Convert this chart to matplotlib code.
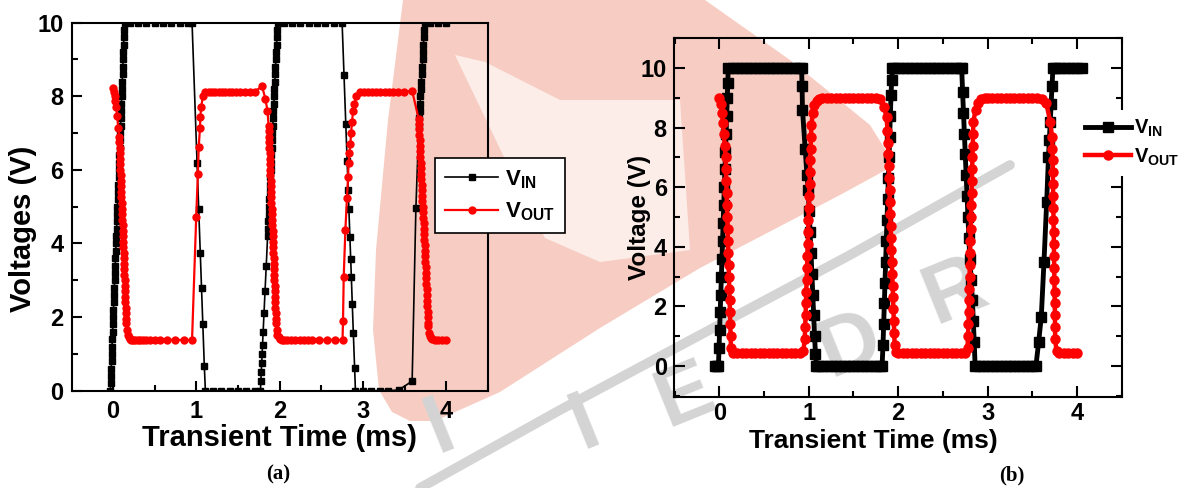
import matplotlib
matplotlib.use("Agg")
import matplotlib.pyplot as plt
import numpy as np
from matplotlib.patches import Polygon
from matplotlib.ticker import MultipleLocator

# values, (time in ms, voltage in V)
# the steep edges are drawn with many samples in the original, so they are listed densely

# panel (a)
vin_a = [
    # rise 1
    (-0.030, 0.0), (-0.027, 0.2), (-0.023, 0.4), (-0.020, 0.6), (-0.016, 0.8), (-0.013, 1.0),
    (-0.010, 1.2), (-0.006, 1.4), (-0.003, 1.6), (0.001, 1.8), (0.004, 2.0), (0.007, 2.2),
    (0.011, 2.4), (0.014, 2.6), (0.018, 2.8), (0.021, 3.0), (0.024, 3.2), (0.028, 3.4),
    (0.031, 3.6), (0.035, 3.8), (0.038, 4.0), (0.041, 4.2), (0.045, 4.4), (0.048, 4.6),
    (0.052, 4.8), (0.055, 5.0), (0.058, 5.2), (0.062, 5.4), (0.065, 5.6), (0.069, 5.8),
    (0.072, 6.0), (0.075, 6.2), (0.079, 6.4), (0.082, 6.6), (0.086, 6.8), (0.089, 7.0),
    (0.092, 7.2), (0.096, 7.4), (0.099, 7.6), (0.103, 7.8), (0.106, 8.0), (0.109, 8.2),
    (0.113, 8.4), (0.116, 8.6), (0.120, 8.8), (0.123, 9.0), (0.126, 9.2), (0.130, 9.4),
    (0.133, 9.6), (0.137, 9.8), (0.140, 10.0),
    (0.2, 10.0), (0.3, 10.0), (0.4, 10.0), (0.5, 10.0), (0.6, 10.0), (0.7, 10.0), (0.8, 10.0), (0.9, 10.0),
    # fall 1
    (0.95, 10.0), (1.01, 6.2), (1.03, 4.95), (1.048, 3.75), (1.064, 2.78), (1.079, 1.82),
    (1.097, 0.68), (1.11, 0.0),
    (1.2, 0.0), (1.3, 0.0), (1.4, 0.0), (1.5, 0.0), (1.6, 0.0), (1.7, 0.0),
    # rise 2
    (1.770, 0.0), (1.775, 0.25), (1.780, 0.5), (1.785, 0.75), (1.791, 1.0), (1.796, 1.25),
    (1.803, 1.6), (1.813, 2.1), (1.826, 2.7), (1.840, 3.4),
    (1.857, 4.2), (1.861, 4.4), (1.865, 4.6), (1.869, 4.8), (1.873, 5.0), (1.877, 5.2),
    (1.881, 5.4), (1.885, 5.6), (1.889, 5.8), (1.894, 6.0), (1.898, 6.2), (1.902, 6.4),
    (1.906, 6.6), (1.910, 6.8), (1.914, 7.0), (1.918, 7.2), (1.922, 7.4), (1.927, 7.6),
    (1.931, 7.8), (1.935, 8.0), (1.939, 8.2), (1.943, 8.4), (1.947, 8.6), (1.951, 8.8),
    (1.955, 9.0), (1.960, 9.2), (1.964, 9.4), (1.968, 9.6), (1.972, 9.8), (1.976, 10.0),
    (2.05, 10.0), (2.15, 10.0), (2.25, 10.0), (2.35, 10.0), (2.45, 10.0), (2.55, 10.0), (2.65, 10.0),
    # fall 2
    (2.75, 10.0), (2.773, 8.58), (2.794, 7.24), (2.810, 6.24), (2.823, 5.46), (2.831, 4.93),
    (2.843, 4.18), (2.853, 3.59), (2.861, 3.08), (2.872, 2.35), (2.885, 1.58), (2.900, 0.62),
    (2.91, 0.0),
    (3.0, 0.0), (3.1, 0.0), (3.2, 0.0), (3.3, 0.0), (3.43, 0.02),
    # rise 3
    (3.59, 0.26), (3.635, 4.96), (3.670, 7.2), (3.675, 7.4), (3.680, 7.6), (3.685, 7.8),
    (3.690, 8.0), (3.695, 8.2), (3.700, 8.4), (3.705, 8.6), (3.710, 8.8), (3.715, 9.0),
    (3.720, 9.2), (3.725, 9.4), (3.730, 9.6), (3.735, 9.8), (3.740, 10.0),
    (3.8, 10.0), (3.9, 10.0), (4.0, 10.0),
]

vout_a = [
    (0.0, 8.22), (0.01, 8.12), (0.02, 8.02), (0.03, 7.88), (0.04, 7.7), (0.05, 7.47), (0.065, 7.15),
    # fall 1
    (0.0760, 6.90), (0.0785, 6.75), (0.0810, 6.60), (0.0835, 6.45), (0.0860, 6.30), (0.0885, 6.15),
    (0.0910, 6.00), (0.0935, 5.85), (0.0960, 5.70), (0.0985, 5.55), (0.1010, 5.40), (0.1035, 5.25),
    (0.1060, 5.10), (0.1085, 4.95), (0.1110, 4.80), (0.1135, 4.65), (0.1160, 4.50), (0.1185, 4.35),
    (0.1210, 4.20), (0.1235, 4.05), (0.1260, 3.90), (0.1285, 3.75), (0.1310, 3.60), (0.1335, 3.45),
    (0.1360, 3.30), (0.1385, 3.15), (0.1410, 3.00), (0.1435, 2.85), (0.1460, 2.70), (0.1485, 2.55),
    (0.1510, 2.40), (0.1535, 2.25), (0.1560, 2.10), (0.1585, 1.95), (0.1610, 1.85),
    (0.168, 1.65), (0.177, 1.52), (0.188, 1.45), (0.20, 1.41), (0.22, 1.39), (0.24, 1.38),
    (0.27, 1.38), (0.30, 1.38), (0.33, 1.38), (0.36, 1.38), (0.40, 1.38), (0.45, 1.38),
    (0.51, 1.38), (0.57, 1.38), (0.65, 1.38), (0.75, 1.38), (0.85, 1.38), (0.95, 1.38),
    # rise 1
    (1.0, 4.73), (1.02, 5.9), (1.03, 6.63), (1.045, 7.13), (1.05, 7.45), (1.06, 7.72),
    (1.08, 8.0), (1.11, 8.12),
    (1.15, 8.12), (1.19, 8.12), (1.23, 8.12), (1.27, 8.12), (1.31, 8.12), (1.35, 8.12),
    (1.39, 8.12), (1.43, 8.12), (1.48, 8.12), (1.53, 8.12), (1.58, 8.12), (1.64, 8.12),
    (1.70, 8.13), (1.79, 8.27),
    # fall 2
    (1.83, 7.93), (1.855, 7.6), (1.868, 7.2), (1.8705, 7.05), (1.873, 6.9), (1.8756, 6.75),
    (1.878, 6.6), (1.8806, 6.45), (1.883, 6.3), (1.8857, 6.15), (1.888, 6.0), (1.8907, 5.85),
    (1.893, 5.7), (1.8957, 5.55), (1.898, 5.4), (1.9008, 5.25), (1.903, 5.1), (1.9058, 4.95),
    (1.908, 4.8), (1.9108, 4.65), (1.913, 4.5), (1.9159, 4.35), (1.918, 4.2), (1.9209, 4.05),
    (1.923, 3.9), (1.926, 3.75), (1.928, 3.6), (1.931, 3.45), (1.934, 3.3), (1.936, 3.15),
    (1.939, 3.0), (1.941, 2.85), (1.944, 2.7), (1.946, 2.55), (1.949, 2.4), (1.951, 2.25),
    (1.954, 2.1), (1.956, 1.95), (1.958, 1.85),
    (1.966, 1.65), (1.975, 1.52), (1.99, 1.45), (2.01, 1.41), (2.03, 1.39), (2.05, 1.38),
    (2.09, 1.38), (2.14, 1.38), (2.19, 1.38), (2.24, 1.38), (2.29, 1.38), (2.34, 1.38),
    (2.39, 1.38), (2.47, 1.38), (2.57, 1.38), (2.67, 1.38), (2.755, 1.38),
    # rise 2
    (2.761, 1.9), (2.769, 3.08), (2.789, 4.36), (2.809, 5.23), (2.821, 5.8), (2.829, 6.2),
    (2.837, 6.45), (2.849, 6.7), (2.857, 7.0), (2.869, 7.3), (2.881, 7.6), (2.897, 7.8),
    (2.921, 8.0), (2.969, 8.12),
    (3.01, 8.12), (3.06, 8.12), (3.11, 8.12), (3.16, 8.12), (3.21, 8.12), (3.26, 8.12),
    (3.31, 8.12), (3.36, 8.12), (3.42, 8.12), (3.49, 8.12), (3.59, 8.15),
    # fall 3
    (3.669, 7.38), (3.672, 7.25), (3.675, 7.1), (3.678, 6.95), (3.681, 6.8), (3.684, 6.65),
    (3.687, 6.5), (3.690, 6.35), (3.693, 6.2), (3.696, 6.05), (3.699, 5.9), (3.702, 5.75),
    (3.705, 5.6), (3.708, 5.45), (3.711, 5.3), (3.714, 5.15), (3.717, 5.0), (3.720, 4.85),
    (3.723, 4.7), (3.727, 4.55), (3.730, 4.4), (3.733, 4.25), (3.736, 4.1), (3.739, 3.95),
    (3.742, 3.8), (3.745, 3.65), (3.748, 3.5), (3.751, 3.35), (3.754, 3.2), (3.757, 3.05),
    (3.760, 2.9), (3.763, 2.75), (3.766, 2.6), (3.769, 2.45), (3.772, 2.3), (3.775, 2.15),
    (3.778, 2.0), (3.781, 1.85), (3.783, 1.75),
    (3.79, 1.58), (3.80, 1.49), (3.815, 1.43), (3.83, 1.40),
    (3.86, 1.38), (3.90, 1.38), (3.95, 1.38), (4.0, 1.38),
]

# panel (b)
vin_b = [
    (-0.05, 0.0), (-0.03, 0.0), (-0.01, 0.0), (-0.003, 0.6), (0.003, 1.2), (0.01, 1.8),
    (0.016, 2.4), (0.023, 3.0), (0.03, 3.6), (0.036, 4.2), (0.043, 4.8), (0.049, 5.4),
    (0.056, 6.0), (0.063, 6.6), (0.069, 7.2), (0.076, 7.8), (0.082, 8.4), (0.089, 9.0),
    (0.095, 9.5), (0.10, 10.0),
    (0.15, 10.0), (0.2, 10.0), (0.25, 10.0), (0.3, 10.0), (0.35, 10.0), (0.4, 10.0),
    (0.45, 10.0), (0.5, 10.0), (0.55, 10.0), (0.6, 10.0), (0.65, 10.0), (0.7, 10.0),
    (0.75, 10.0), (0.8, 10.0), (0.85, 10.0), (0.9, 10.0),
    (0.92, 10.0), (0.925, 9.4), (0.93, 8.6), (0.96, 7.3), (0.98, 6.4), (0.995, 5.9),
    (1.005, 5.2), (1.015, 4.5), (1.025, 3.8), (1.035, 3.1), (1.045, 2.4), (1.055, 1.7),
    (1.065, 1.0), (1.075, 0.4), (1.085, 0.0),
    (1.1, 0.0), (1.15, 0.0), (1.2, 0.0), (1.25, 0.0), (1.3, 0.0), (1.35, 0.0), (1.4, 0.0),
    (1.45, 0.0), (1.5, 0.0), (1.55, 0.0), (1.6, 0.0), (1.65, 0.0), (1.7, 0.0), (1.75, 0.0),
    (1.8, 0.0),
    (1.82, 0.0), (1.83, 0.7), (1.838, 1.4), (1.845, 2.1), (1.852, 2.8), (1.86, 3.5),
    (1.867, 4.2), (1.875, 4.9), (1.882, 5.6), (1.89, 6.3), (1.897, 7.0), (1.905, 7.7),
    (1.912, 8.4), (1.92, 9.1), (1.927, 9.6), (1.935, 10.0),
    (1.95, 10.0), (2.0, 10.0), (2.05, 10.0), (2.1, 10.0), (2.15, 10.0), (2.2, 10.0),
    (2.25, 10.0), (2.3, 10.0), (2.35, 10.0), (2.4, 10.0), (2.45, 10.0), (2.5, 10.0),
    (2.55, 10.0), (2.6, 10.0), (2.65, 10.0), (2.7, 10.0),
    (2.71, 10.0), (2.72, 9.2), (2.73, 8.5), (2.74, 7.8), (2.75, 7.1), (2.76, 6.4),
    (2.77, 5.7), (2.78, 5.0), (2.79, 4.3), (2.80, 3.6), (2.815, 2.9), (2.83, 2.2),
    (2.84, 1.5), (2.85, 0.8), (2.86, 0.0),
    (2.9, 0.0), (2.95, 0.0), (3.0, 0.0), (3.05, 0.0), (3.1, 0.0), (3.15, 0.0), (3.2, 0.0),
    (3.25, 0.0), (3.3, 0.0), (3.35, 0.0), (3.4, 0.0), (3.45, 0.0), (3.5, 0.0), (3.54, 0.0),
    (3.57, 0.8), (3.60, 1.66), (3.63, 3.5), (3.66, 5.5), (3.68, 7.0), (3.69, 7.6),
    (3.70, 8.2), (3.71, 8.8), (3.72, 9.4), (3.73, 10.0),
    (3.75, 10.0), (3.8, 10.0), (3.85, 10.0), (3.9, 10.0), (3.95, 10.0), (4.0, 10.0), (4.05, 10.0),
]

vout_b = [
    (0.0, 9.0), (0.015, 8.8), (0.03, 8.5), (0.04, 8.15), (0.05, 7.8), (0.06, 7.4),
    (0.070, 7.0), (0.074, 6.6), (0.078, 6.2), (0.081, 5.8), (0.085, 5.4), (0.089, 5.0),
    (0.093, 4.6), (0.096, 4.2), (0.100, 3.8), (0.104, 3.4), (0.108, 3.0), (0.111, 2.6),
    (0.115, 2.2), (0.119, 1.8), (0.123, 1.4), (0.126, 1.0), (0.130, 0.6), (0.15, 0.45),
    (0.2, 0.43), (0.25, 0.43), (0.3, 0.43), (0.35, 0.43), (0.4, 0.43), (0.45, 0.43),
    (0.5, 0.43), (0.55, 0.43), (0.6, 0.43), (0.65, 0.43), (0.7, 0.43), (0.75, 0.43),
    (0.8, 0.43), (0.85, 0.43), (0.9, 0.43),
    (0.94, 0.5), (0.955, 0.9), (0.960, 1.3), (0.964, 1.7), (0.968, 2.1), (0.972, 2.5),
    (0.976, 2.9), (0.980, 3.3), (0.984, 3.7), (0.989, 4.1), (0.993, 4.5), (0.997, 4.9),
    (1.001, 5.3), (1.005, 5.7), (1.009, 6.1), (1.013, 6.5), (1.017, 6.9), (1.021, 7.3),
    (1.025, 7.7), (1.030, 8.1), (1.045, 8.5), (1.06, 8.75), (1.09, 8.9), (1.12, 8.97),
    (1.15, 9.0), (1.2, 9.0), (1.25, 9.0), (1.3, 9.0), (1.35, 9.0), (1.4, 9.0), (1.45, 9.0),
    (1.5, 9.0), (1.55, 9.0), (1.6, 9.0), (1.65, 9.0), (1.7, 9.0), (1.75, 9.0),
    (1.80, 8.95), (1.84, 8.7), (1.87, 8.37), (1.88, 7.9),
    (1.885, 7.5), (1.889, 7.1), (1.894, 6.7), (1.898, 6.3), (1.903, 5.9), (1.907, 5.5),
    (1.911, 5.1), (1.916, 4.7), (1.920, 4.3), (1.925, 3.9), (1.929, 3.5), (1.933, 3.1),
    (1.938, 2.7), (1.942, 2.3), (1.947, 1.9), (1.951, 1.5), (1.955, 1.1), (1.960, 0.7),
    (1.98, 0.47),
    (2.0, 0.43), (2.05, 0.43), (2.1, 0.43), (2.15, 0.43), (2.2, 0.43), (2.25, 0.43),
    (2.3, 0.43), (2.35, 0.43), (2.4, 0.43), (2.45, 0.43), (2.5, 0.43), (2.55, 0.43),
    (2.6, 0.43), (2.65, 0.43), (2.7, 0.43), (2.75, 0.43),
    (2.775, 0.6), (2.78, 1.0), (2.785, 1.4), (2.788, 1.8), (2.791, 2.2), (2.795, 2.6),
    (2.798, 3.0), (2.801, 3.4), (2.804, 3.8), (2.808, 4.2), (2.811, 4.6), (2.814, 5.0),
    (2.817, 5.4), (2.820, 5.8), (2.824, 6.2), (2.827, 6.6), (2.830, 7.0), (2.834, 7.4),
    (2.837, 7.8), (2.840, 8.2), (2.865, 8.6), (2.89, 8.82), (2.93, 8.95), (2.97, 9.0),
    (3.0, 9.0), (3.05, 9.0), (3.1, 9.0), (3.15, 9.0), (3.2, 9.0), (3.25, 9.0),
    (3.3, 9.0), (3.35, 9.0), (3.4, 9.0), (3.45, 9.0), (3.5, 9.0), (3.55, 9.0),
    (3.61, 8.95), (3.656, 8.82), (3.70, 8.2), (3.72, 7.7),
    (3.725, 7.3), (3.727, 6.9), (3.729, 6.5), (3.731, 6.1), (3.733, 5.7), (3.734, 5.3),
    (3.736, 4.9), (3.738, 4.5), (3.740, 4.1), (3.742, 3.7), (3.744, 3.3), (3.746, 2.9),
    (3.748, 2.5), (3.750, 2.1), (3.752, 1.7), (3.753, 1.3), (3.755, 0.9), (3.77, 0.5),
    (3.80, 0.43), (3.85, 0.43), (3.90, 0.43), (3.95, 0.43), (4.0, 0.43),
]

legend_a = [r'$\mathbf{V}_{\mathbf{IN}}$', r'$\mathbf{V}_{\mathbf{OUT}}$']
legend_b = [r'$\mathrm{V}_{\mathrm{IN}}$', r'$\mathrm{V}_{\mathrm{OUT}}$']

# watermark outline in figure pixels (y downwards)
pink_outline = [(403, 0), (705, 0), (790, 60), (870, 125), (895, 165), (840, 195),
                (700, 268), (600, 328), (500, 392), (435, 421), (410, 421), (392, 412),
                (379, 390), (373, 330), (376, 250), (388, 120)]
pale_outline = [(455, 55), (485, 62), (560, 100), (680, 100), (690, 250), (600, 262),
                (545, 238), (515, 180)]
wm_letters = [('I', 440, 428), ('I', 585, 424), ('E', 685, 396), ('D', 850, 345), ('R', 955, 292)]


plt.rcParams['font.family'] = ['Liberation Sans', 'DejaVu Sans']
plt.rcParams['font.weight'] = 'bold'
plt.rcParams['axes.labelweight'] = 'bold'
plt.rcParams['mathtext.fontset'] = 'custom'
plt.rcParams['mathtext.rm'] = 'Liberation Sans'
plt.rcParams['mathtext.bf'] = 'Liberation Sans:bold'

W, H = 1181, 488
fig = plt.figure(figsize=(W / 100, H / 100), dpi=100)

# faint logo in the background
bg = fig.add_axes([0, 0, 1, 1], zorder=-5)
bg.set_xlim(0, W)
bg.set_ylim(H, 0)
bg.axis('off')
bg.add_patch(Polygon(pink_outline, closed=True, fc='#f7cdc3', ec='none'))
bg.add_patch(Polygon(pale_outline, closed=True, fc='white', ec='none', alpha=0.65))
bg.plot([420, 560, 700, 850, 1010], [488, 410, 335, 255, 165], color='#d4d4d4', lw=7,
        solid_capstyle='round')
for ch, x, y in wm_letters:
    bg.text(x, y, ch, color='#d4d4d4', fontsize=60, fontweight='bold',
            rotation=22, ha='center', va='center')


def style_axes(ax, tick_size, major_len, minor_len, all_sides):
    for sp in ax.spines.values():
        sp.set_linewidth(1.5)
    ax.xaxis.set_major_locator(MultipleLocator(1))
    ax.xaxis.set_minor_locator(MultipleLocator(0.5))
    ax.yaxis.set_major_locator(MultipleLocator(2))
    ax.yaxis.set_minor_locator(MultipleLocator(1))
    ax.tick_params(which='both', direction='in', width=1.5,
                   top=all_sides, right=all_sides, labelsize=tick_size)
    ax.tick_params(which='major', length=major_len)
    ax.tick_params(which='minor', length=minor_len)
    ax.set_facecolor('none')


# ---------- (a) ----------
axa = fig.add_axes([72 / W, 1 - 390.7 / H, (488 - 72) / W, (390.7 - 22.7) / H])
t, v = np.array(vin_a).T
axa.plot(t, v, '-s', color='black', lw=1.2, ms=4, label=legend_a[0], zorder=3)
t, v = np.array(vout_a).T
axa.plot(t, v, '-o', color='red', lw=1.6, ms=5, label=legend_a[1], zorder=4)
axa.set_xlim(-0.49, 4.5)
axa.set_ylim(0, 10)
style_axes(axa, 17, 7, 4, False)
axa.tick_params(axis='y', pad=6)
axa.tick_params(axis='x', pad=7)
axa.set_xlabel('Transient Time (ms)', fontsize=21)
axa.set_ylabel('Voltages (V)', fontsize=21)
axa.xaxis.set_label_coords(0.5, -0.09)
axa.yaxis.set_label_coords(-0.085, 0.44)
axa.legend(loc='upper left', bbox_to_anchor=(435 / W, 1 - 158 / H),
           bbox_transform=fig.transFigure, fontsize=16, frameon=True, fancybox=False,
           edgecolor='black', facecolor='white', framealpha=1, borderaxespad=0,
           handlelength=2.4, handletextpad=0.3, labelspacing=0.45, borderpad=0.45,
           numpoints=1).get_frame().set_linewidth(1.2)

# ---------- (b) ----------
axb = fig.add_axes([673.7 / W, 1 - 396.7 / H, (1121.8 - 673.7) / W, (396.7 - 38.3) / H])
t, v = np.array(vin_b).T
axb.plot(t, v, '-s', color='black', lw=3.5, ms=6.5, label=legend_b[0], zorder=3)
t, v = np.array(vout_b).T
axb.plot(t, v, '-o', color='red', lw=3.2, ms=6.5, label=legend_b[1], zorder=4)
axb.set_xlim(-0.51, 4.5)
axb.set_ylim(-1.03, 11)
style_axes(axb, 17, 8, 4.5, True)
axb.tick_params(axis='y', pad=5)
axb.tick_params(axis='x', pad=4)
axb.set_xlabel('Transient Time (ms)', fontsize=19)
axb.set_ylabel('Voltage (V)', fontsize=17.5)
axb.xaxis.set_label_coords(0.445, -0.09)
axb.yaxis.set_label_coords(-0.05, 0.5)
axb.legend(loc='upper left', bbox_to_anchor=(1077 / W, 1 - 110 / H),
           bbox_transform=fig.transFigure, fontsize=14.5, frameon=True, fancybox=False,
           edgecolor='none', facecolor='white', framealpha=1, borderaxespad=0,
           handlelength=2.3, handletextpad=0.15, labelspacing=0.35, borderpad=0.4,
           numpoints=1)

fig.text(278 / W, 1 - 474 / H, '(a)', ha='center', va='center', fontsize=15,
         family=['Liberation Serif', 'DejaVu Serif'], fontweight='bold')
fig.text(1012 / W, 1 - 475 / H, '(b)', ha='center', va='center', fontsize=15,
         family=['Liberation Serif', 'DejaVu Serif'], fontweight='bold')

fig.savefig('out.png', dpi=100)
